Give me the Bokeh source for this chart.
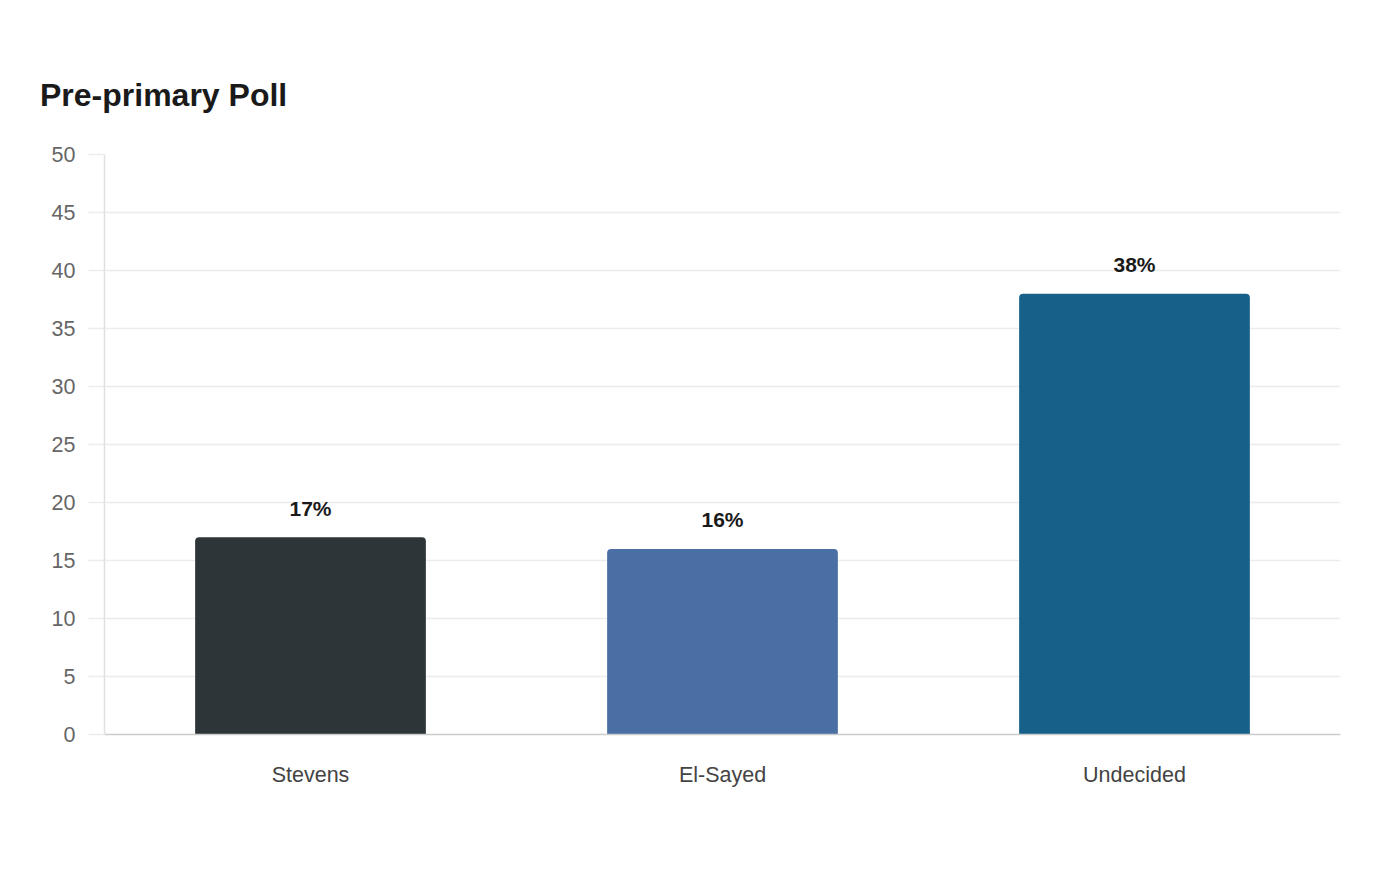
from bokeh.plotting import figure
from bokeh.models import ColumnDataSource, Range1d, Div, SingleIntervalTicker
from bokeh.layouts import column
from bokeh.core.properties import value
from bokeh.embed import file_html
from bokeh.resources import INLINE

# poll data
candidates = ["Stevens", "El-Sayed", "Undecided"]
shares = [17, 16, 38]
bar_colors = ["#2e3538", "#4a6fa5", "#17608a"]
share_labels = [f"{s}%" for s in shares]

FONT = "Liberation Sans"
width = 1400
title_h = 110

source = ColumnDataSource(data=dict(
    candidate=candidates,
    share=shares,
    color=bar_colors,
    label=share_labels,
))

title = Div(
    text="Pre-primary Poll",
    width=width, height=title_h,
    styles={"font-family": FONT, "font-size": "32px", "font-weight": "bold",
            "color": "#1a1a1a", "padding-left": "35px", "padding-top": "72px",
            "line-height": "36px"},
)

p = figure(
    x_range=candidates,
    y_range=Range1d(0, 50),
    width=width, height=880 - title_h,
    output_backend="svg",
    toolbar_location=None,
    tools="",
    min_border_left=104, min_border_right=60,
    min_border_top=34, min_border_bottom=156,
)
p.outline_line_color = None
p.background_fill_color = "white"
p.border_fill_color = "white"

p.vbar(x="candidate", top="share", width=0.56, source=source,
       fill_color="color", line_color=None, border_radius=(4, 4, 0, 0))

p.text(x="candidate", y="share", text="label", source=source,
       text_align="center", text_baseline="middle", y_offset=-29,
       text_font=value(FONT), text_font_style="bold",
       text_font_size="21px", text_color="#1a1a1a")

# grid
p.xgrid.grid_line_color = None
p.ygrid.grid_line_color = "#ececec"
p.ygrid.grid_line_width = 1.5

# y axis
p.yaxis.ticker = SingleIntervalTicker(interval=5)
p.yaxis.minor_tick_line_color = None
p.yaxis.major_tick_in = 0
p.yaxis.major_tick_out = 16
p.yaxis.major_tick_line_color = "#ececec"
p.yaxis.major_tick_line_width = 1.5
p.yaxis.axis_line_color = "#e0e0e0"
p.yaxis.axis_line_width = 1.5
p.yaxis.major_label_standoff = 13
p.yaxis.major_label_text_font = FONT
p.yaxis.major_label_text_font_size = "21.5px"
p.yaxis.major_label_text_color = "#666666"

# x axis
p.xaxis.major_tick_line_color = None
p.xaxis.minor_tick_line_color = None
p.xaxis.axis_line_color = "#cccccc"
p.xaxis.axis_line_width = 1.5
p.xaxis.major_label_standoff = 22
p.xaxis.major_label_text_font = FONT
p.xaxis.major_label_text_font_size = "21.5px"
p.xaxis.major_label_text_color = "#444444"
p.x_range.range_padding = 0

layout = column(title, p)
open("out.html", "w").write(file_html(layout, INLINE))
